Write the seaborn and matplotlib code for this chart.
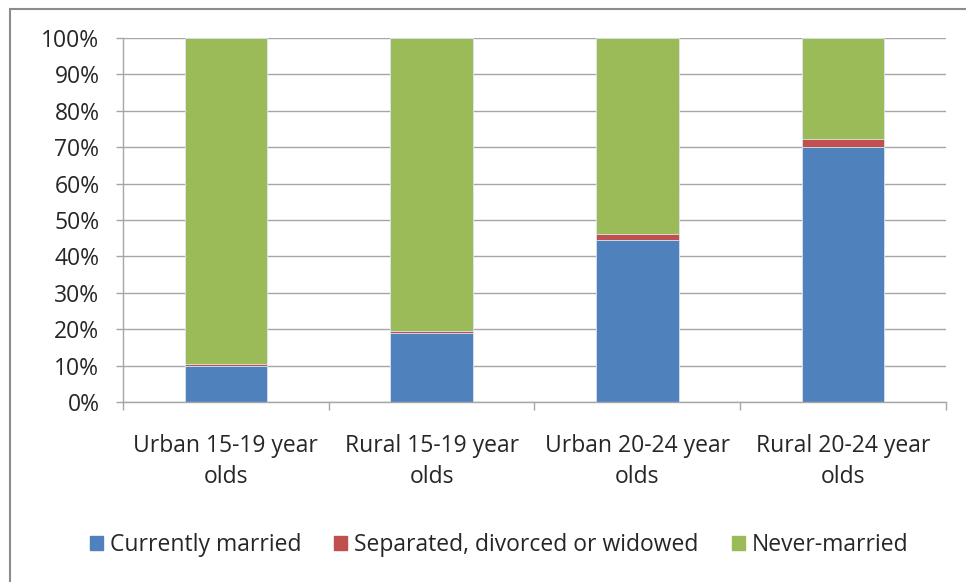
import numpy as np
import pandas as pd
import matplotlib
matplotlib.use('Agg')
import matplotlib.pyplot as plt
import matplotlib.patches as mpatches
import seaborn as sns

# data (percent)
groups = ['Urban 15-19 year\nolds', 'Rural 15-19 year\nolds',
          'Urban 20-24 year\nolds', 'Rural 20-24 year\nolds']
married = [9.8, 18.9, 44.5, 70.1]
separated = [0.7, 0.6, 1.7, 2.2]
never = [100 - m - s for m, s in zip(married, separated)]

series = ['Currently married', 'Separated, divorced or widowed', 'Never-married']
colors = ['#4F81BD', '#C0504D', '#9BBB59']

sns.set_theme(style='white')
plt.rcParams['font.family'] = ['Open Sans', 'DejaVu Sans']
FS = 16.5
TXT = '#262626'

df = pd.DataFrame({'group': groups, 'married': married,
                   'separated': separated, 'never': never})
df['cum1'] = df['married']
df['cum2'] = df['married'] + df['separated']
df['cum3'] = df['cum2'] + df['never']

fig = plt.figure(figsize=(9.66, 5.82), dpi=100)
ax = fig.add_axes([123 / 966, 1 - 402 / 582, (946 - 123) / 966, (402 - 38) / 582])

# stacked: draw cumulative totals from top down
for col, c in zip(['cum3', 'cum2', 'cum1'], colors[::-1]):
    sns.barplot(data=df, x='group', y=col, color=c, width=0.4,
                saturation=1, ax=ax, edgecolor='#dde6f0', linewidth=0.6)

ax.set_ylim(0, 100)
ax.set_xlim(-0.5, 3.5)
ax.set_yticks(np.arange(0, 101, 10))
ax.set_yticklabels([f'{v}%' for v in range(0, 101, 10)])
ax.yaxis.grid(True, color='#a6a6a6', linewidth=1)
ax.set_axisbelow(True)
ax.set_xlabel('')
ax.set_ylabel('')

for s in ['top', 'right']:
    ax.spines[s].set_visible(False)
for s in ['left', 'bottom']:
    ax.spines[s].set_color('#a6a6a6')
    ax.spines[s].set_linewidth(1)

ax.tick_params(axis='y', which='major', left=True, length=5, width=1,
               color='#a6a6a6', labelsize=FS, pad=12, labelcolor=TXT)
# category ticks at boundaries, labels centered
ax.set_xticks([0, 1, 2, 3])
ax.set_xticklabels(groups)
ax.tick_params(axis='x', which='major', bottom=False, labelsize=FS,
               pad=17, labelcolor=TXT)
ax.set_xticks([-0.5, 0.5, 1.5, 2.5, 3.5], minor=True)
ax.tick_params(axis='x', which='minor', bottom=True, length=6, width=1,
               color='#a6a6a6')
for lbl in ax.get_xticklabels():
    lbl.set_linespacing(1.4)

handles = [mpatches.Patch(color=c, label=l) for c, l in zip(colors, series)]
fig.legend(handles=handles, loc='center', bbox_to_anchor=(499 / 966, 1 - 545 / 582),
           ncol=3, frameon=False, fontsize=FS, handlelength=0.57,
           handleheight=0.57, handletextpad=0.3, columnspacing=1.45,
           labelcolor=TXT)

# outer chart frame (only left/top edges visible)
fig.patches.append(mpatches.Rectangle((10 / 966, -0.05), 1.0, 1 - 9 / 582 + 0.05,
                                      transform=fig.transFigure, fill=False,
                                      edgecolor='#8c8c8c', linewidth=1.5))

fig.savefig('out.png', dpi=100)
